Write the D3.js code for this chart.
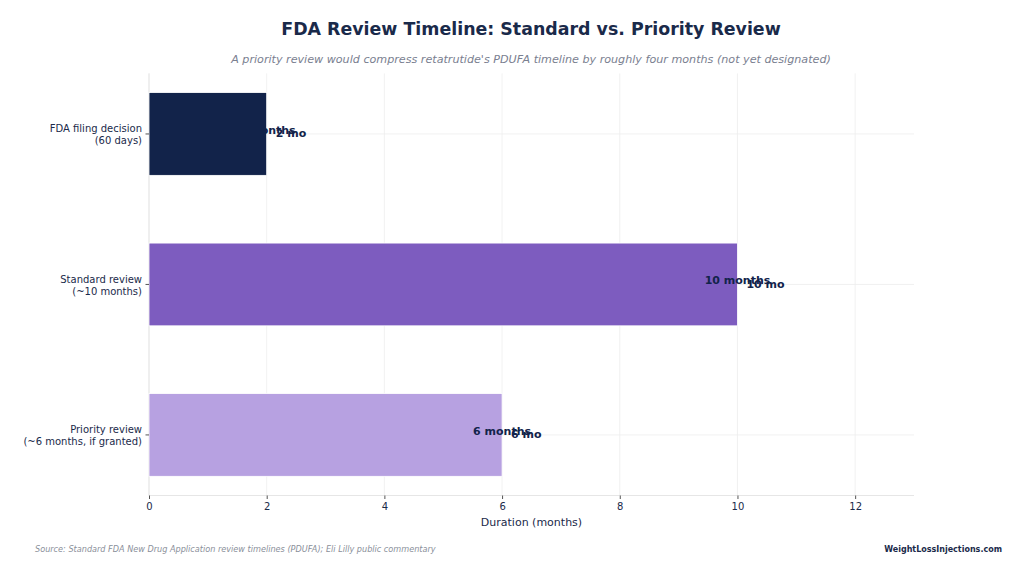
<!DOCTYPE html>
<html>
<head>
<meta charset="utf-8">
<script src="https://cdn.jsdelivr.net/npm/d3@7"></script>
<style>
  body { margin: 0; background: #fff; }
  text { font-family: "DejaVu Sans", sans-serif; }
</style>
</head>
<body>
<script>
const categories = ["FDA filing decision\n(60 days)", "Standard review\n(~10 months)", "Priority review\n(~6 months, if granted)"];
const months = [2, 10, 6];
const colors = ["#12234a", "#7d5cbf", "#b7a1e1"];
const barLabels = ["2 months", "10 months", "6 months"];
const shortLabels = ["2 mo", "10 mo", "6 mo"];
const xTicks = [0, 2, 4, 6, 8, 10, 12];

const w = 1024, h = 575;
const ink = "#1a2a4a";
const labelInk = "#12234a";
const svg = d3.select("body").append("svg").attr("width", w).attr("height", h);

const m = { t: 73.4, r: 110, b: 79.5, l: 149 };
const gw = w - m.l - m.r;
const gh = h - m.t - m.b;

const x = d3.scaleLinear().domain([0, 13]).range([0, gw]);
// categorical axis: index 0 at top, bar height 0.55, 5% margins
const y = d3.scaleLinear().domain([-0.4025, 2.4025]).range([0, gh]);
const barH = 0.55;

const g = svg.append("g").attr("transform", `translate(${m.l},${m.t})`);

// grid
g.selectAll("line.vg").data(xTicks).enter().append("line")
  .attr("x1", d => x(d)).attr("x2", d => x(d))
  .attr("y1", 0).attr("y2", gh)
  .attr("stroke", "#eeeeee").attr("stroke-width", 0.8);
g.selectAll("line.hg").data(categories).enter().append("line")
  .attr("x1", 0).attr("x2", gw)
  .attr("y1", (d, i) => y(i)).attr("y2", (d, i) => y(i))
  .attr("stroke", "#eeeeee").attr("stroke-width", 0.8);

// spines
g.append("line").attr("x1", 0).attr("x2", 0).attr("y1", 0).attr("y2", gh)
  .attr("stroke", "#e6e6e6");
g.append("line").attr("x1", 0).attr("x2", gw).attr("y1", gh).attr("y2", gh)
  .attr("stroke", "#e6e6e6");

// bars
g.selectAll("rect.bar").data(months).enter().append("rect")
  .attr("x", x(0))
  .attr("y", (d, i) => y(i - barH / 2))
  .attr("width", d => x(d) - x(0))
  .attr("height", y(barH) - y(0))
  .attr("fill", (d, i) => colors[i])
  .attr("stroke", "#ffffff").attr("stroke-width", 0.8);

// labels
g.selectAll("text.lab").data(months).enter().append("text")
  .attr("x", d => x(d))
  .attr("y", (d, i) => y(i) - 3)
  .attr("text-anchor", "middle")
  .attr("dominant-baseline", "middle")
  .attr("font-size", 11).attr("font-weight", "bold")
  .attr("fill", labelInk)
  .text((d, i) => barLabels[i]);
g.selectAll("text.short").data(months).enter().append("text")
  .attr("x", d => x(d) + 9)
  .attr("y", (d, i) => y(i) + 0.5)
  .attr("dominant-baseline", "middle")
  .attr("font-size", 11).attr("font-weight", "bold")
  .attr("fill", labelInk)
  .text((d, i) => shortLabels[i]);

// x-axis
const xAxis = d3.axisBottom(x).tickValues(xTicks).tickSize(3.5).tickPadding(4);
const xAG = g.append("g").attr("transform", `translate(0,${gh})`).call(xAxis);
xAG.select(".domain").remove();
xAG.selectAll(".tick line").attr("stroke", "#555");
xAG.selectAll(".tick text").attr("fill", ink).attr("font-size", 10)
  .style("font-family", "DejaVu Sans, sans-serif");

// y ticks and labels
const yt = g.selectAll("g.yt").data(categories).enter().append("g")
  .attr("transform", (d, i) => `translate(0,${y(i)})`);
yt.append("line").attr("x1", -3.5).attr("x2", 0).attr("stroke", "#555");
yt.append("text")
  .attr("text-anchor", "end")
  .attr("font-size", 10).attr("fill", ink)
  .selectAll("tspan").data(d => d.split("\n")).enter().append("tspan")
  .attr("x", -7)
  .attr("y", (d, i, n) => (i - (n.length - 1) / 2) * 12 + 4.5)
  .text(d => d);

// axis title
svg.append("text").attr("x", m.l + gw / 2).attr("y", 526)
  .attr("text-anchor", "middle").attr("font-size", 11).attr("fill", ink)
  .text("Duration (months)");

// title
svg.append("text").attr("x", 531).attr("y", 35)
  .attr("text-anchor", "middle").attr("font-size", 17.4).attr("font-weight", "bold")
  .attr("fill", ink)
  .text("FDA Review Timeline: Standard vs. Priority Review");

svg.append("text").attr("x", 531).attr("y", 63)
  .attr("text-anchor", "middle").attr("font-size", 11.15).attr("font-style", "italic")
  .attr("fill", "#7a8090")
  .text("A priority review would compress retatrutide's PDUFA timeline by roughly four months (not yet designated)");

// footnotes
svg.append("text").attr("x", 35).attr("y", 552)
  .attr("font-size", 8.15).attr("font-style", "italic").attr("fill", "#8a8f9a")
  .text("Source: Standard FDA New Drug Application review timelines (PDUFA); Eli Lilly public commentary");
svg.append("text").attr("x", 1002).attr("y", 552)
  .attr("text-anchor", "end").attr("font-size", 8).attr("font-weight", "bold").attr("fill", ink)
  .text("WeightLossInjections.com");
</script>
</body>
</html>
